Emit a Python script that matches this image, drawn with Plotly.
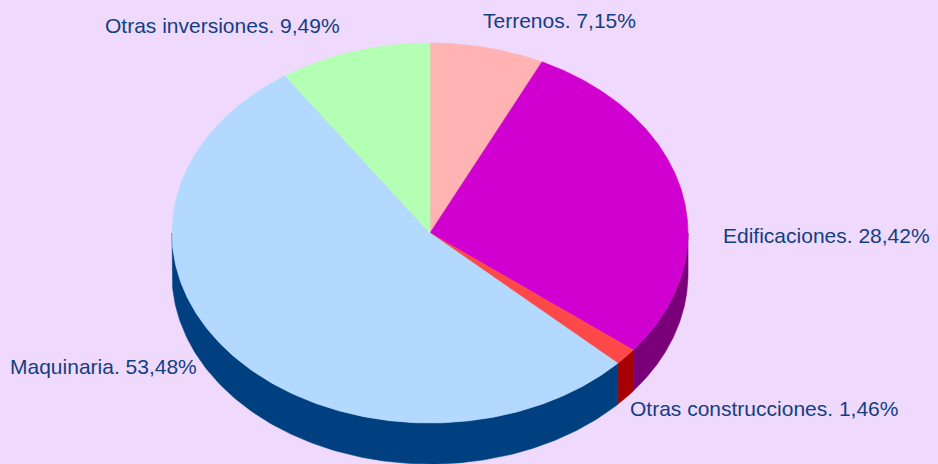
import numpy as np
import plotly.graph_objects as go

# ---- data ----
labels = ["Terrenos", "Edificaciones", "Otras construcciones", "Maquinaria", "Otras inversiones"]
values = [7.15, 28.42, 1.46, 53.48, 9.49]
top_colors = ["#FFB3B3", "#D000D0", "#FF4848", "#B3D9FF", "#B3FFB3"]
side_colors = ["#B07A7A", "#7A007A", "#A80000", "#004080", "#60A060"]

# ---- geometry of the 3D pie (in pixel-like axis units) ----
W, H = 938, 464
cx, cy, rx, ry, depth = 430, 233, 258, 190, 41

def pt(theta_deg, dy=0.0):
    t = np.radians(theta_deg)
    return cx + rx * np.sin(t), cy - ry * np.cos(t) + dy

fig = go.Figure()

total = float(sum(values))
starts = np.concatenate([[0.0], np.cumsum(values)[:-1]]) / total * 360.0
ends = np.cumsum(values) / total * 360.0

# sides (front half only: theta between 90 and 270)
for s, e, col in zip(starts, ends, side_colors):
    a, b = max(s, 90.0), min(e, 270.0)
    if b <= a:
        continue
    th = np.linspace(a, b, 200)
    xt, yt = pt(th)
    xb, yb = pt(th[::-1], depth)
    xs = np.concatenate([xt, xb, xt[:1]])
    ys = np.concatenate([yt, yb, yt[:1]])
    fig.add_trace(go.Scatter(x=xs, y=ys, mode="lines", fill="toself",
                             fillcolor=col, line=dict(color=col, width=0.6),
                             hoverinfo="skip", showlegend=False))

# top faces
for s, e, col in zip(starts, ends, top_colors):
    th = np.linspace(s, e, 300)
    xa, ya = pt(th)
    xs = np.concatenate([[cx], xa, [cx]])
    ys = np.concatenate([[cy], ya, [cy]])
    fig.add_trace(go.Scatter(x=xs, y=ys, mode="lines", fill="toself",
                             fillcolor=col, line=dict(color=col, width=0.6),
                             hoverinfo="skip", showlegend=False))

# labels
label_pos = [(481, 20), (721, 235), (628, 408), (8, 366), (103, 25)]
text_color = "#123F82"
for lab, v, (lx, ly) in zip(labels, values, label_pos):
    txt = f"{lab}. " + f"{v:.2f}".replace(".", ",") + "%"
    fig.add_annotation(x=lx, y=ly, text=txt, showarrow=False, xanchor="left",
                       yanchor="middle", xref="x", yref="y",
                       font=dict(family="Liberation Sans, Arial, sans-serif", size=21, color=text_color))

bg = "#EFD9FD"
fig.update_layout(
    width=W, height=H, margin=dict(l=0, r=0, t=0, b=0),
    paper_bgcolor=bg, plot_bgcolor=bg,
    xaxis=dict(range=[0, W], visible=False, fixedrange=True),
    yaxis=dict(range=[H, 0], visible=False, fixedrange=True),
    showlegend=False,
)

fig.write_html("out.html", config={"displayModeBar": False},
               post_script="document.body.style.margin='0';document.body.style.background='%s';" % bg)
